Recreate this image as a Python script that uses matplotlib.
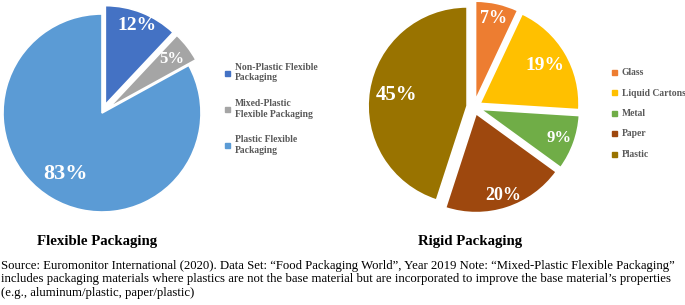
import matplotlib
matplotlib.use("Agg")
import matplotlib.pyplot as plt
from matplotlib.lines import Line2D
import numpy as np

plt.rcParams['font.family'] = ['Liberation Serif', 'DejaVu Serif']

# --- data ---
flex_labels = ["Non-Plastic Flexible\nPackaging", "Mixed-Plastic\nFlexible Packaging",
               "Plastic Flexible\nPackaging"]
flex_vals = [12, 5, 83]
flex_colors = ["#4472C4", "#A5A5A5", "#5B9BD5"]

rigid_labels = ["Glass", "Liquid Cartons", "Metal", "Paper", "Plastic"]
rigid_vals = [7, 19, 9, 20, 45]
rigid_colors = ["#ED7D31", "#FFC000", "#70AD47", "#9E480E", "#997300"]

source_note = ("Source: Euromonitor International (2020). Data Set: \u201cFood Packaging World\u201d, "
               "Year 2019 Note: \u201cMixed-Plastic Flexible Packaging\u201d\n"
               "includes packaging materials where plastics are not the base material but are "
               "incorporated to improve the base material\u2019s properties\n"
               "(e.g., aluminum/plastic, paper/plastic)")

W, H = 685, 305
fig = plt.figure(figsize=(W / 100, H / 100), dpi=100)
ax = fig.add_axes([0, 0, 1, 1])  # axes in pixel units


def draw_pie(vals, colors, center, r, explode, pct_r, pct_size):
    wedges, _, autotexts = ax.pie(
        vals, colors=colors, startangle=90, counterclock=False,
        center=center, radius=r, explode=explode,
        autopct=lambda p: f"{p:.0f}%",
        wedgeprops=dict(edgecolor="white", linewidth=1.2))
    # move pct labels to per-slice radii (excel "best fit" look)
    for t, w, d, s in zip(autotexts, wedges, pct_r, pct_size):
        th = np.deg2rad((w.theta1 + w.theta2) / 2)
        cx, cy = w.center
        t.set_position((cx + d * r * np.cos(th), cy + d * r * np.sin(th)))
        t.set_color("white")
        t.set_fontweight("bold")
        t.set_fontsize(s)
    return wedges


fw = draw_pie(flex_vals, flex_colors, (102, H - 113), 99, [9, 9, 0],
              [0.86, 0.8, 0.72], [14, 12, 16])
rw = draw_pie(rigid_vals, rigid_colors, (474, H - 107), 99, [7, 7, 7, 7, 7],
              [0.85, 0.76, 0.84, 0.87, 0.72], [13, 14, 12, 13, 15])


def sq(c):
    return Line2D([], [], ls="none", marker="s", markersize=3.6,
                  markerfacecolor=c, markeredgecolor=c)


leg_kw = dict(frameon=False, labelcolor="#595959",
              handlelength=0.5, handletextpad=0.5,
              borderpad=0, borderaxespad=0, bbox_transform=ax.transData,
              loc="upper left", prop=dict(weight="bold", size=6.9))
leg1 = ax.legend([sq(c) for c in flex_colors], flex_labels,
                 bbox_to_anchor=(225, H - 63), labelspacing=1.75, **leg_kw)
ax.add_artist(leg1)
ax.legend([sq(c) for c in rigid_colors], rigid_labels,
          bbox_to_anchor=(612, H - 68), labelspacing=1.2, **leg_kw)

ax.text(97, H - 242, "Flexible Packaging", ha="center", va="center",
        fontsize=10.7, fontweight="bold")
ax.text(470, H - 242, "Rigid Packaging", ha="center", va="center",
        fontsize=10.7, fontweight="bold")
ax.text(1, H - 260, source_note, ha="left", va="top", fontsize=9.2, linespacing=1.15)

ax.set_xlim(0, W)
ax.set_ylim(0, H)
ax.set_aspect("equal")
ax.axis("off")

fig.savefig("out.png", dpi=100)
